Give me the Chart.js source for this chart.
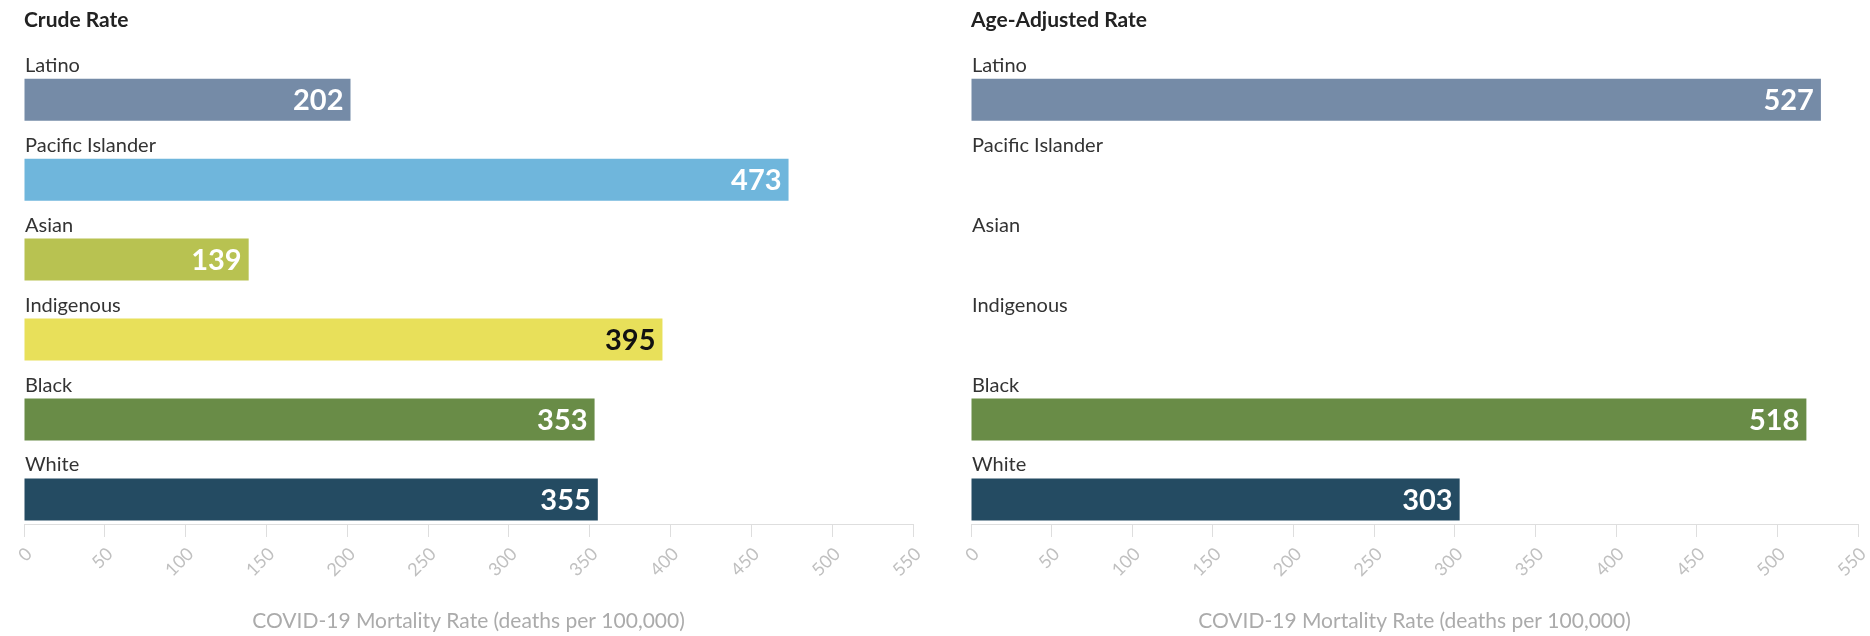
<!DOCTYPE html>
<html>
<head>
<meta charset="utf-8">
<script src="https://cdn.jsdelivr.net/npm/chart.js@4/dist/chart.umd.min.js"></script>
<style>
  body { margin: 0; background: #fff; }
  .box { position: absolute; top: 0; height: 636px; }
  #leftBox { left: 0; width: 940px; }
  #rightBox { left: 947px; width: 923px; }
</style>
</head>
<body>
<div class="box" id="leftBox"><canvas id="crudeChart"></canvas></div>
<div class="box" id="rightBox"><canvas id="ageChart"></canvas></div>
<script>
// data
const groups = ['Latino', 'Pacific Islander', 'Asian', 'Indigenous', 'Black', 'White'];
const crudeRate = [202, 473, 139, 395, 353, 355];
const ageAdjustedRate = [527, null, null, null, 518, 303];
const barColors = ['#758ba7', '#6fb6dc', '#b8c251', '#e8e05a', '#698c47', '#244b62'];
const valueColors = ['#fff', '#fff', '#fff', '#111', '#fff', '#fff'];
const xTicks = [0, 50, 100, 150, 200, 250, 300, 350, 400, 450, 500, 550];
const axisTitle = 'COVID-19 Mortality Rate (deaths per 100,000)';

const FONT = 'Lato, "Open Sans", sans-serif';

// group labels above the bars, value labels inside the bar end, slanted tick labels
const rowLabels = {
    id: 'rowLabels',
    afterDatasetsDraw(chart) {
        const ctx = chart.ctx;
        const y = chart.scales.y;
        const meta = chart.getDatasetMeta(1);
        const values = chart.data.datasets[1].data;
        ctx.save();
        ctx.textBaseline = 'middle';
        chart.data.labels.forEach((lab, i) => {
            ctx.font = '20px ' + FONT;
            ctx.fillStyle = '#333';
            ctx.textAlign = 'left';
            ctx.fillText(lab, chart.chartArea.left + 1, y.getPixelForValue(i) - 19);

            if (values[i] == null) return;
            const bar = meta.data[i];
            ctx.font = 'bold 29px ' + FONT;
            ctx.fillStyle = valueColors[i];
            ctx.textAlign = 'right';
            ctx.fillText(values[i], bar.x - 7, bar.y + 1);
        });
        ctx.restore();
    },
    afterDraw(chart) {
        const ctx = chart.ctx;
        const x = chart.scales.x;
        ctx.save();
        ctx.font = '18px ' + FONT;
        ctx.fillStyle = '#c0c0c0';
        ctx.textAlign = 'right';
        ctx.textBaseline = 'middle';
        x.ticks.forEach(t => {
            ctx.save();
            ctx.translate(x.getPixelForValue(t.value) + 5, chart.chartArea.bottom + 27);
            ctx.rotate(-Math.PI / 4);
            ctx.fillText(String(t.value), 0, 0);
            ctx.restore();
        });
        ctx.restore();
    }
};

function makeChart(id, title, values, rightPad) {
    return new Chart(document.getElementById(id), {
        type: 'bar',
        data: {
            labels: groups,
            datasets: [
                // empty spacer dataset, leaves room for the label above each bar
                { data: groups.map(() => null), backgroundColor: 'transparent' },
                { data: values, backgroundColor: barColors, borderWidth: 0 }
            ]
        },
        options: {
            indexAxis: 'y',
            responsive: true,
            maintainAspectRatio: false,
            animation: false,
            categoryPercentage: 0.775,
            barPercentage: 1.355,
            layout: { padding: { left: 24, right: rightPad, top: 0, bottom: 0 } },
            plugins: {
                legend: { display: false },
                tooltip: { enabled: false },
                title: {
                    display: true,
                    text: title,
                    align: 'start',
                    color: '#222',
                    font: { family: FONT, size: 21, weight: 'bold' },
                    padding: { top: 8, bottom: 11 }
                }
            },
            scales: {
                y: { display: false },
                x: {
                    min: 0,
                    max: 550,
                    afterBuildTicks: s => { s.ticks = xTicks.map(v => ({ value: v })); },
                    afterFit: s => { s.height = 112; },
                    border: { display: true, color: '#dedede', width: 1 },
                    grid: { drawOnChartArea: false, drawTicks: true, tickLength: 13, color: '#dedede' },
                    ticks: { display: false },
                    title: {
                        display: true,
                        text: axisTitle,
                        color: '#ababab',
                        font: { family: FONT, size: 21 },
                        padding: { top: 0, bottom: 2 }
                    }
                }
            }
        },
        plugins: [rowLabels]
    });
}

makeChart('crudeChart', 'Crude Rate', crudeRate, 27);
makeChart('ageChart', 'Age-Adjusted Rate', ageAdjustedRate, 12);
</script>
</body>
</html>
